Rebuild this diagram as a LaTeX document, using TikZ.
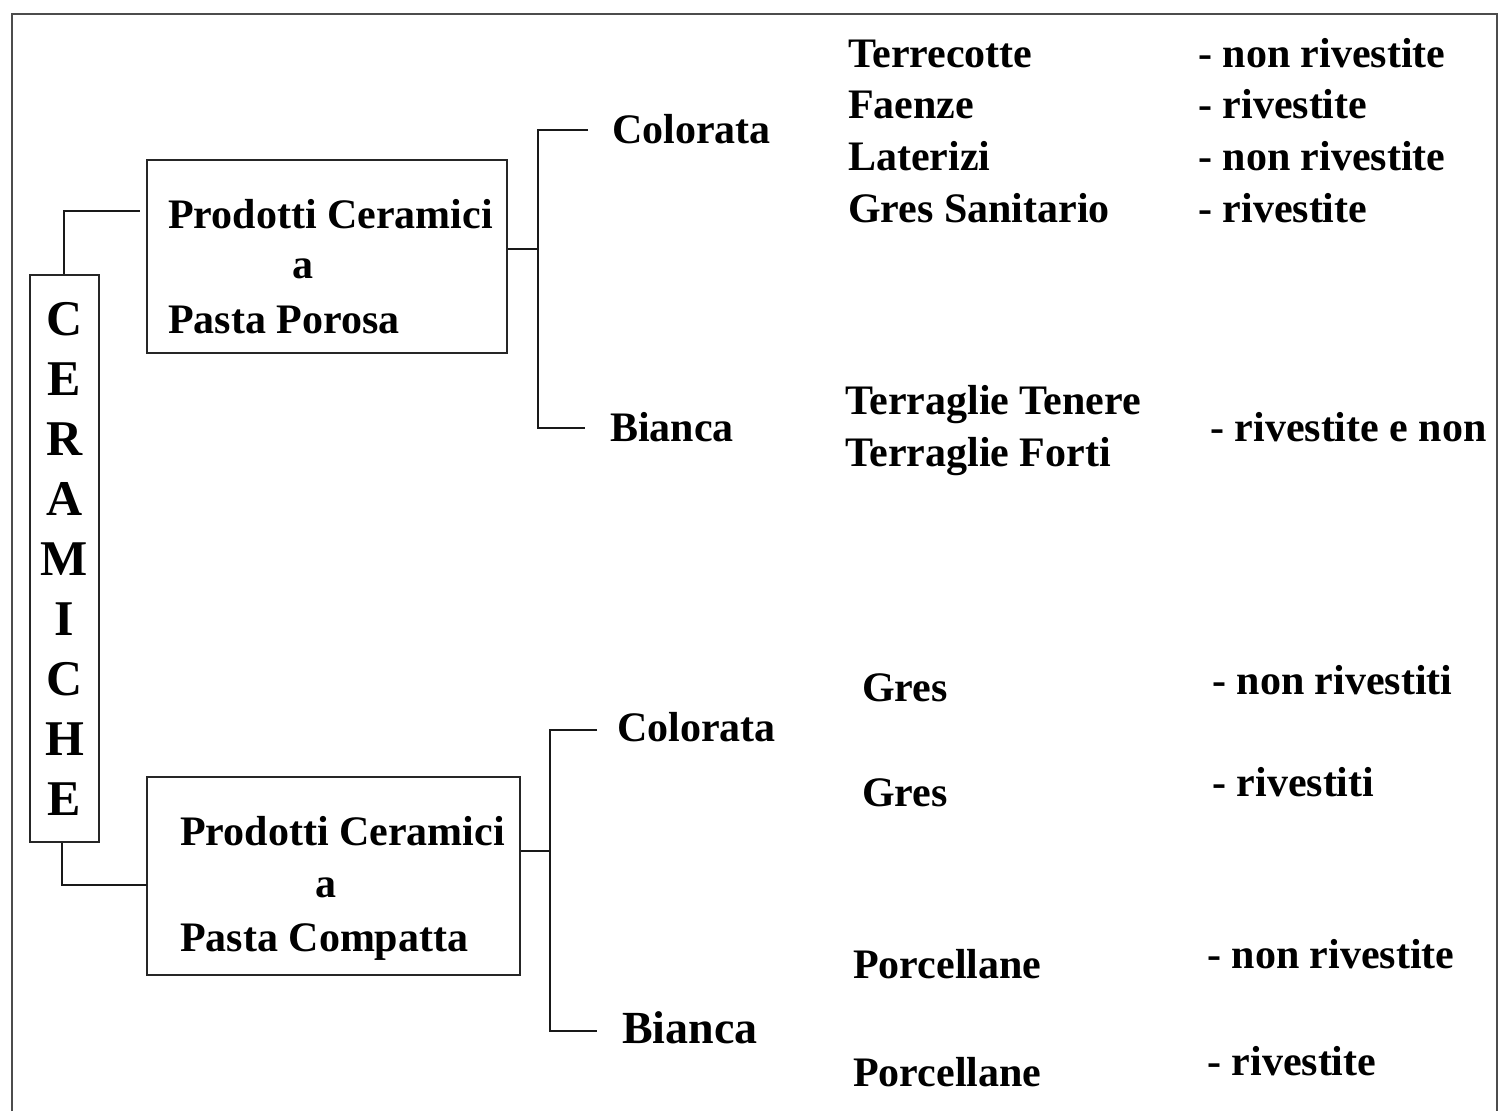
\documentclass[tikz,border=0pt]{standalone}
\usepackage{fontspec}
\setmainfont{Liberation Serif}
\begin{document}
\begin{tikzpicture}[x=1pt,y=-1pt,
  frame/.style={line width=2.5pt,draw=black!70},
  box/.style={draw=black!85,line width=2.5pt,inner sep=0pt},
  conn/.style={line width=2.5pt,draw=black!90},
  txt/.style={anchor=base west,inner sep=0pt,font=\fontsize{42}{50}\selectfont\bfseries},
  big/.style={anchor=base west,inner sep=0pt,font=\fontsize{46}{54}\selectfont\bfseries}]
\useasboundingbox (0,0) rectangle (1501,1111);
\fill[white] (0,0) rectangle (1501,1111);
\draw[frame] (12,1111) -- (12,14) -- (1497,14) -- (1497,1111);

% vertical title box
\node[box,minimum width=69pt,minimum height=567pt,align=center,
      font=\fontsize{50}{60}\selectfont\bfseries] (cer) at (64.5,558.5)
  {C\\E\\R\\A\\M\\I\\C\\H\\E};

% category boxes
\node[box,minimum width=360pt,minimum height=193pt] (pp) at (327,256.5) {};
\node[box,minimum width=373pt,minimum height=198pt] (pc) at (333.5,876) {};
\node[txt] (pp1) at (168,228) {Prodotti Ceramici};
\node[txt] (pp2) at (292,278) {a};
\node[txt] (pp3) at (168,333) {Pasta Porosa};
\node[txt] (pc1) at (180,845) {Prodotti Ceramici};
\node[txt] (pc2) at (315,897) {a};
\node[txt] (pc3) at (180,951) {Pasta Compatta};

% colour labels
\node[txt] (col1) at (612,143) {Colorata};
\node[txt] (bia1) at (610,441) {Bianca};
\node[txt] (col2) at (617,741) {Colorata};
\node[big] (bia2) at (622,1043) {Bianca};

% products, porous
\node[txt] (t1) at (848,67) {Terrecotte};
\node[txt] (t2) at (848,118) {Faenze};
\node[txt] (t3) at (848,170) {Laterizi};
\node[txt] (t4) at (848,222) {Gres Sanitario};
\node[txt] (r1) at (1198,67) {- non rivestite};
\node[txt] (r2) at (1198,118) {- rivestite};
\node[txt] (r3) at (1198,170) {- non rivestite};
\node[txt] (r4) at (1198,222) {- rivestite};
\node[txt] (t5) at (845,414) {Terraglie Tenere};
\node[txt] (t6) at (845,466) {Terraglie Forti};
\node[txt] (r5) at (1210,441) {- rivestite e non};

% products, compact
\node[txt] (g1) at (862,701) {Gres};
\node[txt] (g2) at (862,806) {Gres};
\node[txt] (g3) at (853,978) {Porcellane};
\node[txt] (g4) at (853,1086) {Porcellane};
\node[txt] (s1) at (1212,694) {- non rivestiti};
\node[txt] (s2) at (1212,796) {- rivestiti};
\node[txt] (s3) at (1207,968) {- non rivestite};
\node[txt] (s4) at (1207,1075) {- rivestite};

% connectors
\coordinate (j1) at (140,211);
\coordinate (j2) at (147,885);
\coordinate (b1) at (538,249);
\coordinate (b2) at (550,851);
\coordinate (e1) at (588,130);
\coordinate (e2) at (585,428);
\coordinate (e3) at (597,730);
\coordinate (e4) at (597,1031);
\draw[conn] (cer.north -| 64,0) |- (j1);
\draw[conn] (cer.south -| 62,0) |- (j2);
\draw[conn] (pp.east |- b1) -- (b1);
\draw[conn] (e1) -| (b1) |- (e2);
\draw[conn] (pc.east |- b2) -- (b2);
\draw[conn] (e3) -| (b2) |- (e4);
\end{tikzpicture}
\end{document}
